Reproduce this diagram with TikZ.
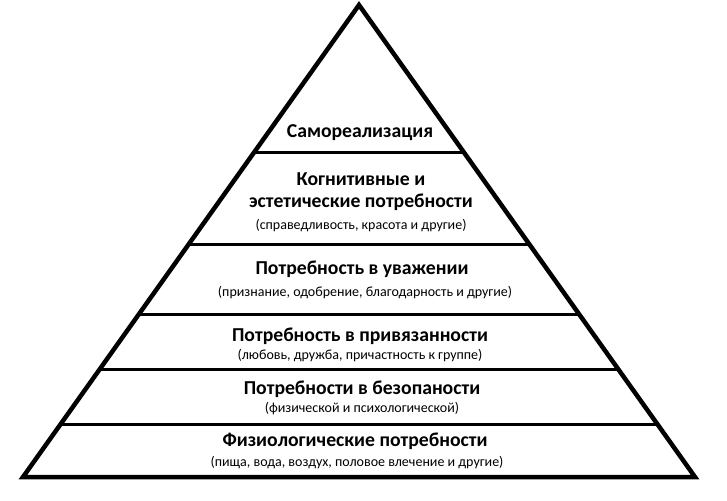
\documentclass[tikz,border=0pt]{standalone}
\usepackage{fontspec}
\setmainfont{Carlito}
\begin{document}
\begin{tikzpicture}[x=1pt,y=-1pt,
  title/.style={font=\bfseries\fontsize{19.7}{23}\selectfont, inner sep=0pt, anchor=center},
  sub/.style={font=\fontsize{14}{16}\selectfont, inner sep=0pt, anchor=center},
  edge/.style={line width=4.5pt, line join=miter},
  divider/.style={line width=3pt}]
\useasboundingbox (0,0) rectangle (727,500);
\fill[white] (0,0) rectangle (727,500);
\coordinate (A) at (359,5);
\coordinate (L) at (23,477);
\coordinate (R) at (695,477);
\begin{scope}
  \clip (A) -- (L) -- (R) -- cycle;
  \foreach \y in {152,244,314,369,424}
    \draw[divider] (0,\y) -- (727,\y);
\end{scope}
\draw[edge] (A) -- (L) -- (R) -- cycle;

\node[title] (t1) at (360,133) {Самореализация};
\node[title] (t2a) at (361,179) {Когнитивные и};
\node[title] (t2b) at (361,202) {эстетические потребности};
\node[sub] (s2) at (361,226) {(справедливость, красота и другие)};
\node[title] (t3) at (362,269) {Потребность в уважении};
\node[sub] (s3) at (365,293) {(признание, одобрение, благодарность и другие)};
\node[title] (t4) at (360,336) {Потребность в привязанности};
\node[sub] (s4) at (360,356) {(любовь, дружба, причастность к группе)};
\node[title] (t5) at (362,389) {Потребности в безопаности};
\node[sub] (s5) at (362,409) {(физической и психологической)};
\node[title] (t6) at (355,441) {Физиологические потребности};
\node[sub] (s6) at (357,463) {(пища, вода, воздух, половое влечение и другие)};
\end{tikzpicture}
\end{document}
